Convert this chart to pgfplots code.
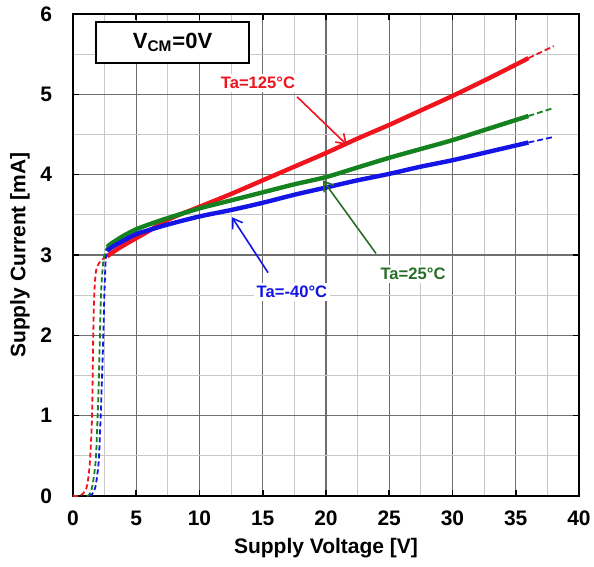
\documentclass[border=0pt]{standalone}
\usepackage{pgfplots}
\pgfplotsset{compat=1.18}
\usepackage{fontspec}
\setmainfont{Liberation Sans}
\usetikzlibrary{arrows.meta}

\definecolor{cRed}{RGB}{240,20,30}
\definecolor{cGreen}{RGB}{20,130,30}
\definecolor{cBlue}{RGB}{20,20,230}
\definecolor{cGreenTxt}{RGB}{40,110,40}
\definecolor{majgrid}{RGB}{110,110,110}
\definecolor{mingrid}{RGB}{200,200,200}

\begin{document}
\begin{tikzpicture}
\begin{axis}[
  scale only axis,
  width=253pt, height=241pt,
  xmin=0, xmax=40, ymin=0, ymax=6,
  xtick={0,5,...,40}, ytick={0,1,...,6},
  minor x tick num=1, minor y tick num=1,
  grid=both,
  major grid style={majgrid, line width=0.6pt},
  minor grid style={mingrid, line width=0.5pt},
  tick align=inside,
  major tick length=3pt, minor tick length=0pt,
  tick style={black, line width=0.8pt},
  axis line style={black, line width=1.1pt},
  /pgf/number format/assume math mode=true,
  ticklabel style={font=\fontsize{10.5}{12}\selectfont\bfseries},
  xticklabel style={yshift=-4pt},
  yticklabel style={xshift=-7pt},
  xlabel={Supply Voltage [V]},
  ylabel={Supply Current [mA]},
  label style={font=\fontsize{10.5}{12}\selectfont\bfseries},
  xlabel style={at={(axis description cs:0.5,-0.108)}, anchor=center},
  ylabel style={at={(axis description cs:-0.105,0.5)}, anchor=center},
  clip=false,
]
% --- Ta = 125 C ---
\addplot[cRed, line width=0.9pt, dash pattern=on 2.5pt off 1.5pt, smooth] coordinates {
 (0,0) (0.4,0) (0.8,0.03) (1.1,0.12) (1.3,0.35) (1.4,0.6) (1.5,0.95)
 (1.55,1.4) (1.6,2.0) (1.68,2.5) (1.78,2.75) (1.9,2.85) (2.2,2.93) (2.7,2.98)};
\addplot[cRed, line width=2.2pt, smooth] coordinates {
 (2.7,2.98) (3,3.02) (4,3.12) (5,3.21) (6,3.3) (7.5,3.44) (10,3.6)
 (12.5,3.76) (15,3.93) (17.5,4.1) (20,4.27) (22.5,4.45) (25,4.62)
 (27.5,4.8) (30,4.98) (33,5.21) (36,5.45)};
\addplot[cRed, line width=0.9pt, dash pattern=on 3pt off 1.5pt] coordinates {
 (36,5.45) (38,5.6)};
% --- Ta = 25 C ---
\addplot[cGreen, line width=0.9pt, dash pattern=on 2.5pt off 1.5pt, smooth] coordinates {
 (1.1,0) (1.3,0.02) (1.5,0.1) (1.7,0.3) (1.82,0.5) (1.95,1.0) (2.05,1.5)
 (2.13,2.0) (2.21,2.5) (2.35,2.85) (2.5,3.02) (2.7,3.1)};
\addplot[cGreen, line width=2.2pt, smooth] coordinates {
 (2.7,3.1) (3,3.14) (4,3.24) (5,3.32) (6,3.38) (7.5,3.46) (10,3.58)
 (12.5,3.68) (15,3.78) (17.5,3.88) (20,3.97) (22.5,4.09) (25,4.21)
 (27.5,4.32) (30,4.43) (33,4.58) (36,4.73)};
\addplot[cGreen, line width=0.9pt, dash pattern=on 3pt off 1.5pt] coordinates {
 (36,4.73) (38,4.83)};
% --- Ta = -40 C ---
\addplot[cBlue, line width=0.9pt, dash pattern=on 2.5pt off 1.5pt, smooth] coordinates {
 (1.3,0) (1.5,0.02) (1.75,0.1) (1.95,0.3) (2.06,0.5) (2.19,1.0) (2.3,1.5)
 (2.4,2.0) (2.48,2.5) (2.58,2.92) (2.7,3.05)};
\addplot[cBlue, line width=2.2pt, smooth] coordinates {
 (2.7,3.05) (3,3.09) (4,3.18) (5,3.26) (6,3.31) (7.5,3.38) (10,3.48)
 (12.5,3.56) (15,3.65) (17.5,3.75) (20,3.84) (22.5,3.93) (25,4.01)
 (27.5,4.1) (30,4.18) (33,4.29) (36,4.40)};
\addplot[cBlue, line width=0.9pt, dash pattern=on 3pt off 1.5pt] coordinates {
 (36,4.40) (38,4.47)};

% condition box
\node[draw=black, line width=1pt, fill=white, minimum width=76.5pt, minimum height=20.5pt,
      font=\fontsize{11}{13}\selectfont\bfseries]
  at (axis cs:7.87,5.645) {V\textsubscript{CM}=0V};

% curve labels and arrows
\draw[cRed, line width=0.8pt, -{Straight Barb[length=4.5pt,width=6pt]}]
  (axis cs:17.71,4.97) -- (axis cs:21.66,4.37);
\node[fill=white, inner sep=1.5pt, text=cRed, font=\fontsize{8.3}{10}\selectfont\bfseries]
  at (axis cs:14.62,5.14) {Ta=125°C};

\draw[cGreenTxt, line width=0.8pt, -{Straight Barb[length=4.5pt,width=6pt]}]
  (axis cs:23.95,3.02) -- (axis cs:19.76,3.93);
\node[fill=white, inner sep=1.5pt, text=cGreenTxt, font=\fontsize{8.3}{10}\selectfont\bfseries]
  at (axis cs:26.88,2.76) {Ta=25°C};

\draw[cBlue, line width=0.8pt, -{Straight Barb[length=4.5pt,width=6pt]}]
  (axis cs:15.42,2.78) -- (axis cs:12.57,3.47);
\node[fill=white, inner sep=1.5pt, text=cBlue, font=\fontsize{8.3}{10}\selectfont\bfseries]
  at (axis cs:17.31,2.54) {Ta=-40°C};
\end{axis}
\pgfresetboundingbox
\path ([shift={(-36.5pt,-35.5pt)}]current axis.south west)
  rectangle ([shift={(7.5pt,7pt)}]current axis.north east);
\end{tikzpicture}
\end{document}
